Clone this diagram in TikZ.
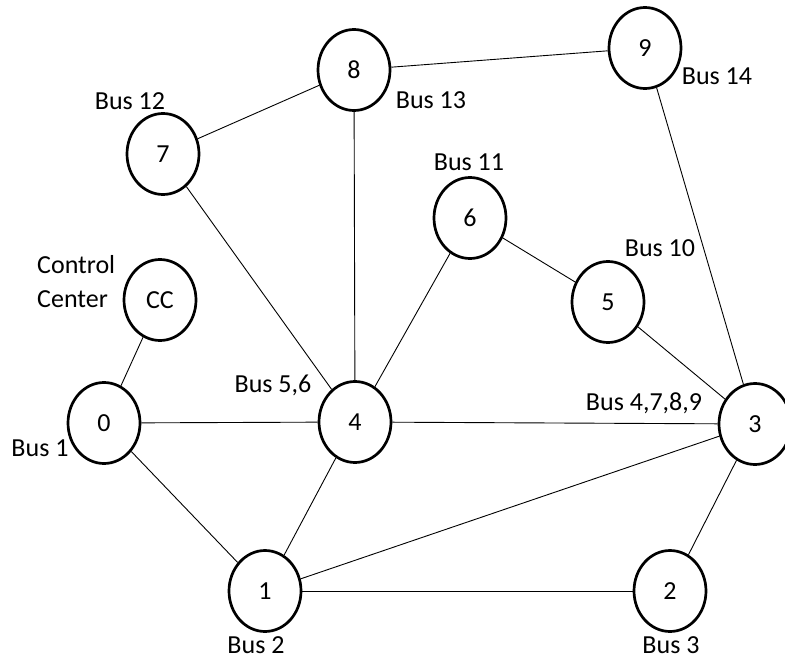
\documentclass[tikz,border=0pt]{standalone}
\usepackage{fontspec}
\setmainfont{Carlito}
\usetikzlibrary{shapes.geometric}
\begin{document}
\begin{tikzpicture}[x=1pt,y=-1pt,
  bus/.style={ellipse,draw,line width=2.7pt,inner sep=0pt,minimum width=72pt,minimum height=81pt,font=\fontsize{26}{31}\selectfont},
  lbl/.style={inner sep=0pt,text height=17pt,text depth=0pt,font=\fontsize{26}{31}\selectfont},
  link/.style={line width=0.9pt}]
\useasboundingbox (0,0) rectangle (785,661);
\node[bus] (cc) at (160,300) {CC};
\node[bus] (n0) at (104,423) {0};
\node[bus] (n4) at (355,422) {4};
\node[bus] (n3) at (755,424) {3};
\node[bus] (n1) at (265,591) {1};
\node[bus] (n2) at (670,591) {2};
\node[bus] (n5) at (608,302) {5};
\node[bus] (n6) at (470,218) {6};
\node[bus] (n7) at (163,154) {7};
\node[bus] (n8) at (354,70) {8};
\node[bus] (n9) at (645,48) {9};
\node[anchor=west,align=left,inner sep=0pt,font=\fontsize{26}{34}\selectfont] (lcc) at (37,282) {Control\\Center};
\node[lbl] (l1) at (40,448) {Bus 1};
\node[lbl] (l56) at (273,384) {Bus 5,6};
\node[lbl] (l4789) at (644,402) {Bus 4,7,8,9};
\node[lbl] (l2) at (256,645) {Bus 2};
\node[lbl] (l3) at (671,645) {Bus 3};
\node[lbl] (l13) at (431,100) {Bus 13};
\node[lbl] (l14) at (717,76) {Bus 14};
\node[lbl] (l12) at (130,101) {Bus 12};
\node[lbl] (l11) at (469,162) {Bus 11};
\node[lbl] (l10) at (660,248) {Bus 10};
\draw[link] (cc) -- (n0);
\draw[link] (n0) -- (n4);
\draw[link] (n0) -- (n1);
\draw[link] (n4) -- (n1);
\draw[link] (n4) -- (n3);
\draw[link] (n4) -- (n6);
\draw[link] (n4) -- (n8);
\draw[link] (n4) -- (n7);
\draw[link] (n7) -- (n8);
\draw[link] (n8) -- (n9);
\draw[link] (n9) -- (n3);
\draw[link] (n6) -- (n5);
\draw[link] (n5) -- (n3);
\draw[link] (n3) -- (n1);
\draw[link] (n1) -- (n2);
\draw[link] (n3) -- (n2);
\end{tikzpicture}
\end{document}
